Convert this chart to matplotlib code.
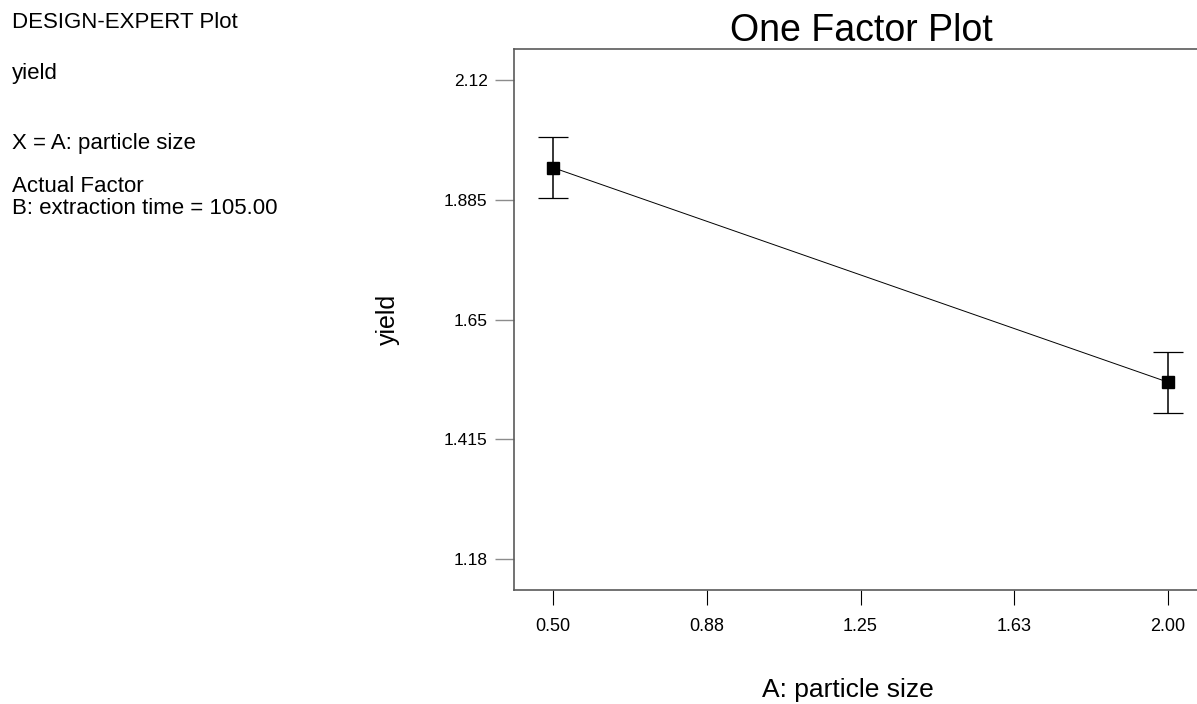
import matplotlib
matplotlib.use('Agg')
import matplotlib.pyplot as plt

plt.rcParams['font.family'] = ['Liberation Sans', 'DejaVu Sans']

# data
particle_size = [0.50, 2.00]
yield_mean = [1.948, 1.527]
yield_err = [0.060, 0.060]

x_ticks = [0.50, 0.875, 1.25, 1.625, 2.00]
x_tick_labels = ['0.50', '0.88', '1.25', '1.63', '2.00']
y_ticks = [1.18, 1.415, 1.65, 1.885, 2.12]
y_tick_labels = ['1.18', '1.415', '1.65', '1.885', '2.12']

info_lines = ['DESIGN-EXPERT Plot', 'yield', 'X = A: particle size',
              'Actual Factor', 'B: extraction time = 105.00']
info_y = [22, 74, 144, 186, 208]  # pixel rows of the text centres

fig = plt.figure(figsize=(11.97, 7.04), dpi=100)
ax = fig.add_axes([514 / 1197, 1 - 590 / 704, 1 - 514 / 1197, (590 - 49) / 704])

# line between the means, then the error bars with square markers
ax.plot(particle_size, yield_mean, color='black', linewidth=0.7, zorder=2)
ax.errorbar(particle_size, yield_mean, yerr=yield_err, fmt='none',
            ecolor='black', elinewidth=1.1, capsize=10.8, capthick=0.9, zorder=3)
ax.plot(particle_size, yield_mean, linestyle='none', marker='s', markersize=9.3,
        color='black', zorder=4)

ax.set_xlim(0.4049, 2.0707)
ax.set_ylim(1.1192, 2.1808)
ax.set_xticks(x_ticks)
ax.set_xticklabels(x_tick_labels)
ax.set_yticks(y_ticks)
ax.set_yticklabels(y_tick_labels)
ax.tick_params(axis='x', direction='out', length=11, width=0.8, color='black',
               labelsize=13, pad=9)
ax.tick_params(axis='y', direction='out', length=14, width=1.0, color='#8c8c8c',
               labelsize=12.5, pad=5)

for side in ['left', 'top', 'bottom']:
    ax.spines[side].set_color('#5a5a5a')
    ax.spines[side].set_linewidth(1.2)
ax.spines['right'].set_visible(False)

fig.text(861 / 1197, 1 - 31 / 704, 'One Factor Plot', fontsize=27,
         ha='center', va='center')
ax.set_ylabel('yield', fontsize=18, labelpad=32)
fig.text(848 / 1197, 1 - 690 / 704, 'A: particle size', fontsize=19,
         ha='center', va='center')

for line, yp in zip(info_lines, info_y):
    fig.text(12 / 1197, 1 - yp / 704, line, fontsize=16, ha='left', va='center')

fig.savefig('out.png', dpi=100)
